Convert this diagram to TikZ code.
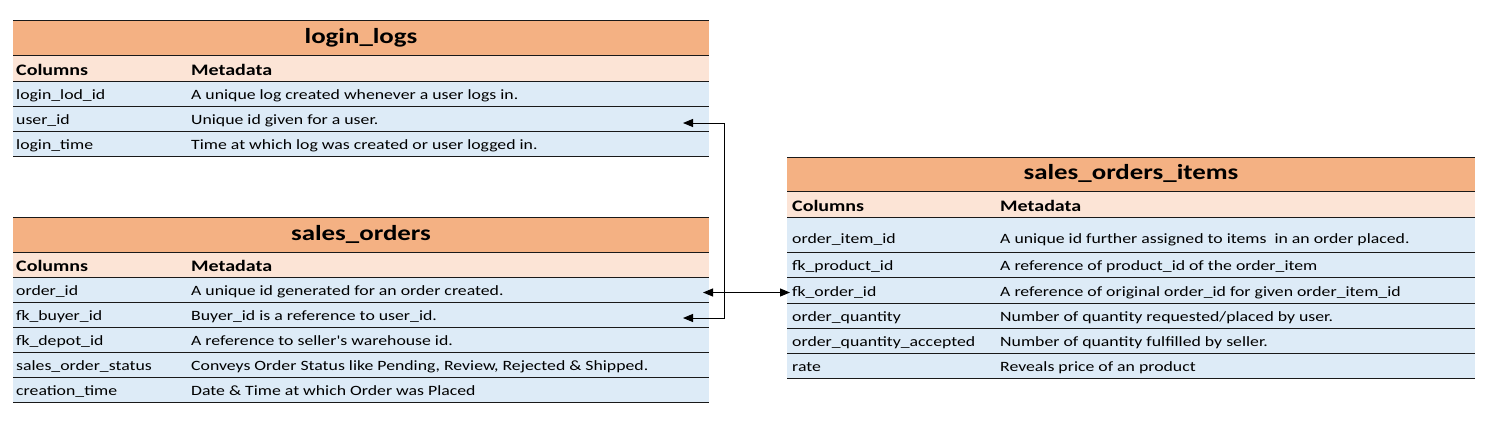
\documentclass[tikz,border=0pt]{standalone}
\usepackage{fontspec}
\setmainfont{Carlito}[FakeStretch=1.25]
\newfontfamily\rawcarlito{Carlito}[FakeStretch=1.25]
\usetikzlibrary{arrows.meta}
\definecolor{titleor}{HTML}{F4B183}
\definecolor{headpeach}{HTML}{FCE4D6}
\definecolor{rowblue}{HTML}{DDEBF7}
\tikzset{
  celltxt/.style={anchor=base west, inner sep=0pt, font=\fontsize{14.2}{16}\selectfont},
  headtxt/.style={anchor=base west, inner sep=0pt, font=\fontsize{16}{18}\selectfont\bfseries},
  titletxt/.style={anchor=base, inner sep=0pt, font=\fontsize{21.5}{24}\selectfont\bfseries},
  rulel/.style={line width=1pt, draw=black!90},
  link/.style={line width=1pt, draw=black, >={Triangle[length=10pt,width=8pt]}, <->},
}
\begin{document}
\begin{tikzpicture}[x=1pt,y=-1pt]
\fill[white] (0,0) rectangle (1490,426);
% ---------------- login_logs ----------------
\fill[titleor] (13,20) rectangle (709,55);
\fill[headpeach] (13,55) rectangle (709,81);
\fill[rowblue] (13,81) rectangle (709,156);
\foreach \y in {20,55,81,106,131,156} \draw[rulel] (13,\y) -- (709,\y);
\node[titletxt] (ll-title) at (361,43.5) {login\_logs};
\node[headtxt] (ll-hc) at (16,75.5) {Columns};
\node[headtxt] (ll-hm) at (191,75.5) {Metadata};
\node[celltxt] (ll-c1) at (16,99.5) {login\_lod\_id};
\node[celltxt] (ll-m1) at (191,99.5) {A unique log created whenever a user logs in.};
\node[celltxt] (ll-c2) at (16,124.5) {user\_id};
\node[celltxt] (ll-m2) at (191,124.5) {Unique id given for a user.};
\node[celltxt] (ll-c3) at (16,149.5) {login\_time};
\node[celltxt] (ll-m3) at (191,149.5) {Time at which log was created or user logged in.};
% ---------------- sales_orders ----------------
\fill[titleor] (13,217) rectangle (709,252);
\fill[headpeach] (13,252) rectangle (709,277);
\fill[rowblue] (13,277) rectangle (709,402);
\foreach \y in {217,252,277,302,327,352,377,402} \draw[rulel] (13,\y) -- (709,\y);
\node[titletxt] (so-title) at (361,240.5) {sales\_orders};
\node[headtxt] (so-hc) at (16,271.5) {Columns};
\node[headtxt] (so-hm) at (191,271.5) {Metadata};
\node[celltxt] (so-c1) at (16,295.5) {order\_id};
\node[celltxt] (so-m1) at (191,295.5) {A unique id generated for an order created.};
\node[celltxt] (so-c2) at (16,320.5) {fk\_buyer\_id};
\node[celltxt] (so-m2) at (191,320.5) {Buyer\_id is a reference to user\_id.};
\node[celltxt] (so-c3) at (16,345.5) {fk\_depot\_id};
\node[celltxt] (so-m3) at (191,345.5) {A reference to seller{\rawcarlito\char"27}s warehouse id.};
\node[celltxt] (so-c4) at (16,370.5) {sales\_order\_status};
\node[celltxt] (so-m4) at (191,370.5) {Conveys Order Status like Pending, Review, Rejected \& Shipped.};
\node[celltxt] (so-c5) at (16,395.5) {creation\_time};
\node[celltxt] (so-m5) at (191,395.5) {Date \& Time at which Order was Placed};
% ---------------- sales_orders_items ----------------
\fill[titleor] (787,157) rectangle (1475,191);
\fill[headpeach] (787,191) rectangle (1475,217);
\fill[rowblue] (787,217) rectangle (1475,378);
\foreach \y in {157,191,217,252,277,303,328,353,378} \draw[rulel] (787,\y) -- (1475,\y);
\node[titletxt] (si-title) at (1131,179.5) {sales\_orders\_items};
\node[headtxt] (si-hc) at (792,211.5) {Columns};
\node[headtxt] (si-hm) at (1000,211.5) {Metadata};
\node[celltxt] (si-c1) at (792,243.5) {order\_item\_id};
\node[celltxt] (si-m1) at (1000,243.5) {A unique id further assigned to items\ \ in an order placed.};
\node[celltxt] (si-c2) at (792,270.5) {fk\_product\_id};
\node[celltxt] (si-m2) at (1000,270.5) {A reference of product\_id of the order\_item};
\node[celltxt] (si-c3) at (792,296.5) {fk\_order\_id};
\node[celltxt] (si-m3) at (1000,296.5) {A reference of original order\_id for given order\_item\_id};
\node[celltxt] (si-c4) at (792,321.5) {order\_quantity};
\node[celltxt] (si-m4) at (1000,321.5) {Number of quantity requested/placed by user.};
\node[celltxt] (si-c5) at (792,346.5) {order\_quantity\_accepted};
\node[celltxt] (si-m5) at (1000,346.5) {Number of quantity fulfilled by seller.};
\node[celltxt] (si-c6) at (792,371.5) {rate};
\node[celltxt] (si-m6) at (1000,371.5) {Reveals price of an product};
% ---------------- connectors ----------------
\coordinate (ui-tip) at (683,123);
\coordinate (fb-tip) at (683,318);
\coordinate (bend) at (724,220);
\coordinate (oi-tip) at (703,292.5);
\coordinate (fo-tip) at (790,292.5);
\draw[link] (ui-tip) -| (bend) |- (fb-tip);
\draw[link] (oi-tip) -- (fo-tip);
\end{tikzpicture}
\end{document}
